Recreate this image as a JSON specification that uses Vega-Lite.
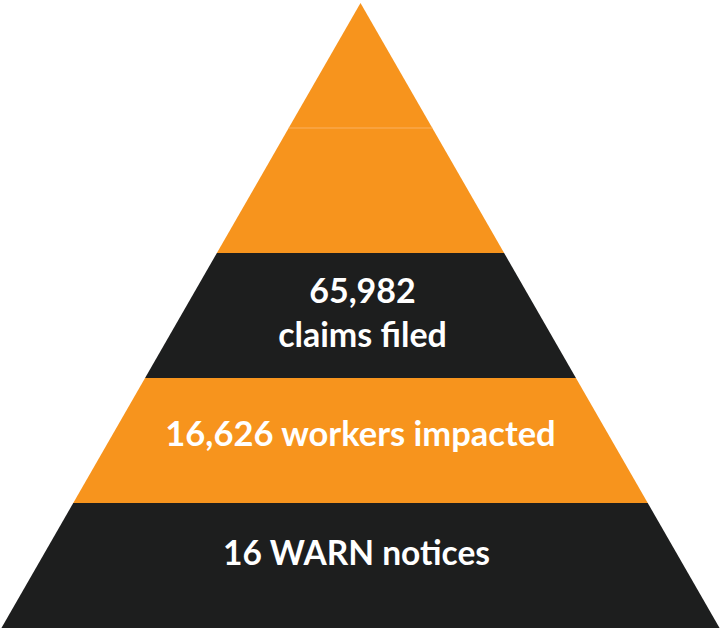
{
  "$schema": "https://vega.github.io/schema/vega-lite/v6.json",
  "autosize": {"type": "fit", "contains": "padding"},
  "width": 721,
  "height": 629,
  "padding": 0,
  "background": "white",
  "config": {"view": {"stroke": null}},
  "datasets": {
    "bands": [
      {"band": "b0", "tone": "orange", "level": 0, "left": 0, "right": 0},
      {"band": "b0", "tone": "orange", "level": 1, "left": -0.2, "right": 0.2},
      {"band": "b1", "tone": "orange", "level": 1, "left": -0.2, "right": 0.2},
      {"band": "b1", "tone": "orange", "level": 2, "left": -0.4, "right": 0.4},
      {"band": "b2", "tone": "dark", "level": 2, "left": -0.4, "right": 0.4},
      {"band": "b2", "tone": "dark", "level": 3, "left": -0.6, "right": 0.6},
      {"band": "b3", "tone": "orange", "level": 3, "left": -0.6, "right": 0.6},
      {"band": "b3", "tone": "orange", "level": 4, "left": -0.8, "right": 0.8},
      {"band": "b4", "tone": "dark", "level": 4, "left": -0.8, "right": 0.8},
      {"band": "b4", "tone": "dark", "level": 5, "left": -1.0, "right": 1.0}
    ],
    "labels": [
      {"id": "claims", "label": "65,982\nclaims filed", "level": 2.5, "center": 0},
      {"id": "workers", "label": "16,626 workers impacted", "level": 3.5, "center": 0},
      {"id": "warn", "label": "16 WARN notices", "level": 4.5, "center": 0}
    ]
  },
  "layer": [
    {
      "data": {"name": "bands"},
      "mark": {"type": "area", "orient": "horizontal"},
      "encoding": {
        "y": {"field": "level", "type": "quantitative", "scale": {"domain": [-0.024, 5.008], "reverse": true, "nice": false, "zero": false}, "axis": null},
        "x": {"field": "left", "type": "quantitative", "scale": {"domain": [-1.004, 1.004], "nice": false, "zero": false}, "axis": null},
        "x2": {"field": "right"},
        "detail": {"field": "band"},
        "color": {"field": "tone", "type": "nominal", "scale": {"domain": ["orange", "dark"], "range": ["#F7941D", "#1D1E1E"]}, "legend": null}
      }
    },
    {
      "data": {"name": "bands"},
      "transform": [{"filter": "datum.band == 'b1' && datum.level == 1"}],
      "mark": {"type": "rule", "color": "#FAB060", "strokeWidth": 1},
      "encoding": {
        "y": {"field": "level", "type": "quantitative"},
        "x": {"field": "left", "type": "quantitative"},
        "x2": {"field": "right"}
      }
    },
    {
      "data": {"name": "labels"},
      "transform": [{"filter": "datum.id == 'claims'"}],
      "mark": {"type": "text", "font": "Lato", "fontWeight": "bold", "fontSize": 34, "color": "#ffffff", "align": "center", "baseline": "middle", "lineBreak": "\n", "lineHeight": 44, "dy": -23, "dx": 2},
      "encoding": {
        "y": {"field": "level", "type": "quantitative"},
        "x": {"field": "center", "type": "quantitative"},
        "text": {"field": "label"}
      }
    },
    {
      "data": {"name": "labels"},
      "transform": [{"filter": "datum.id == 'workers'"}],
      "mark": {"type": "text", "font": "Lato", "fontWeight": "bold", "fontSize": 34.5, "color": "#ffffff", "align": "center", "baseline": "middle", "dy": -5},
      "encoding": {
        "y": {"field": "level", "type": "quantitative"},
        "x": {"field": "center", "type": "quantitative"},
        "text": {"field": "label"}
      }
    },
    {
      "data": {"name": "labels"},
      "transform": [{"filter": "datum.id == 'warn'"}],
      "mark": {"type": "text", "font": "Lato", "fontWeight": "bold", "fontSize": 33.5, "color": "#ffffff", "align": "center", "baseline": "middle", "dy": -11, "dx": -4},
      "encoding": {
        "y": {"field": "level", "type": "quantitative"},
        "x": {"field": "center", "type": "quantitative"},
        "text": {"field": "label"}
      }
    }
  ]
}
